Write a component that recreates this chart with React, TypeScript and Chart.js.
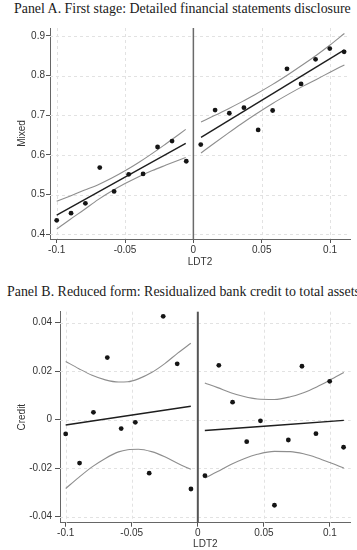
import React, { useEffect, useRef, useMemo } from 'react';
import { Chart, registerables } from 'chart.js';

Chart.register(...registerables);

// ---------------- data ----------------
const titleA = 'Panel A. First stage: Detailed financial statements disclosure';
const titleB = 'Panel B. Reduced form: Residualized bank credit to total assets';

const xTicks = [-0.1, -0.05, 0, 0.05, 0.1];
const xTickLabels = ['-0.1', '-0.05', '0', '0.05', '0.1'];
const xTitle = 'LDT2';

// bin centres (running variable)
const leftBinX = [-0.1, -0.0895, -0.079, -0.0685, -0.058, -0.0473, -0.0368, -0.0262, -0.0156, -0.0052];
const rightBinX = [0.0054, 0.0159, 0.0263, 0.037, 0.0474, 0.058, 0.0685, 0.0788, 0.0894, 0.0998, 0.1103];

// Panel A: Mixed
const aYTicks = [0.4, 0.5, 0.6, 0.7, 0.8, 0.9];
const aYTickLabels = ['0.4', '0.5', '0.6', '0.7', '0.8', '0.9'];
const aYTitle = 'Mixed';
const mixedLeft = [0.435, 0.453, 0.478, 0.568, 0.508, 0.551, 0.552, 0.62, 0.635, 0.584];
const mixedRight = [0.626, 0.713, 0.705, 0.719, 0.663, 0.712, 0.817, 0.779, 0.841, 0.868, 0.86];

const aFitLeftX = [-0.1, -0.0056];
const aFitLeftY = [0.448, 0.629];
const aFitRightX = [0.0056, 0.1105];
const aFitRightY = [0.644, 0.865];

const aCiLeftX = [-0.1, -0.09, -0.08, -0.07, -0.06, -0.05, -0.04, -0.03, -0.02, -0.0056];
const aCiLeftUp = [0.483, 0.4965, 0.5107, 0.5243, 0.541, 0.5599, 0.5808, 0.6038, 0.6283, 0.6643];
const aCiLeftLo = [0.413, 0.4379, 0.4619, 0.4867, 0.5084, 0.5277, 0.5452, 0.5606, 0.5743, 0.5937];

const aCiRightX = [0.0056, 0.015, 0.025, 0.035, 0.045, 0.058, 0.07, 0.08, 0.09, 0.1, 0.1105];
const aCiRightUp = [0.683, 0.6985, 0.7154, 0.7331, 0.7517, 0.7778, 0.8041, 0.8272, 0.8514, 0.8772, 0.906];
const aCiRightLo = [0.605, 0.6289, 0.6538, 0.6781, 0.7013, 0.7298, 0.7539, 0.7728, 0.7904, 0.8086, 0.827];

// Panel B: Credit
const bYTicks = [-0.04, -0.02, 0, 0.02, 0.04];
const bYTickLabels = ['-0.04', '-0.02', '0', '0.02', '0.04'];
const bYTitle = 'Credit';
const creditLeft = [-0.0059, -0.0179, 0.003, 0.0256, -0.0037, -0.0011, -0.0221, 0.0426, 0.023, -0.0286];
const creditRight = [-0.0231, 0.0224, 0.0072, -0.0091, -0.0005, -0.0353, -0.0084, 0.022, -0.0058, 0.0158, -0.0114];

const bFitLeftX = [-0.1, -0.0053];
const bFitLeftY = [-0.0022, 0.0055];
const bFitRightX = [0.0053, 0.1105];
const bFitRightY = [-0.0045, -0.0003];

const bCiLeftX = [-0.1, -0.09, -0.08, -0.07, -0.06, -0.053, -0.045, -0.035, -0.025, -0.015, -0.0053];
const bCiLeftUp = [0.024, 0.021, 0.0183, 0.0164, 0.0155, 0.0156, 0.0168, 0.0194, 0.0231, 0.0275, 0.0315];
const bCiLeftLo = [-0.0284, -0.0238, -0.0195, -0.016, -0.0133, -0.0124, -0.0122, -0.0132, -0.0153, -0.0181, -0.0205];

const bCiRightX = [0.0053, 0.015, 0.025, 0.035, 0.045, 0.058, 0.07, 0.08, 0.09, 0.1, 0.1105];
const bCiRightUp = [0.0151, 0.0132, 0.0111, 0.0095, 0.0085, 0.0083, 0.0094, 0.0111, 0.0135, 0.0163, 0.0194];
const bCiRightLo = [-0.0241, -0.0214, -0.0185, -0.0161, -0.0143, -0.0131, -0.0132, -0.0141, -0.0157, -0.0177, -0.02];

// ---------------- helpers ----------------
const pts = (xs: number[], ys: number[]) => xs.map((x, i) => ({ x, y: ys[i] }));

const SANS = '"Liberation Sans", Arial, Helvetica, sans-serif';
const SERIF = '"Liberation Serif", "Times New Roman", serif';

const stataPlugin = {
  id: 'stataGrid',
  beforeDatasetsDraw(chart: any, _args: any, opts: any) {
    const { ctx, chartArea: a, scales } = chart;
    const x = scales.x;
    const y = scales.y;
    ctx.save();
    ctx.strokeStyle = '#e2e2e2';
    ctx.lineWidth = 1;
    ctx.setLineDash([3, 3]);
    for (const v of opts.xGrid as number[]) {
      if (v === 0) continue;
      const px = Math.round(x.getPixelForValue(v)) + 0.5;
      ctx.beginPath();
      ctx.moveTo(px, a.top);
      ctx.lineTo(px, a.bottom);
      ctx.stroke();
    }
    for (const v of opts.yGrid as number[]) {
      const py = Math.round(y.getPixelForValue(v)) + 0.5;
      ctx.beginPath();
      ctx.moveTo(a.left, py);
      ctx.lineTo(a.right, py);
      ctx.stroke();
    }
    ctx.setLineDash([]);
    ctx.strokeStyle = opts.zeroColor;
    ctx.lineWidth = opts.zeroWidth;
    const zx = x.getPixelForValue(0);
    ctx.beginPath();
    ctx.moveTo(zx, a.top);
    ctx.lineTo(zx, a.bottom);
    ctx.stroke();
    ctx.restore();
  },
};

type Spec = {
  width: number;
  height: number;
  padTop: number;
  padRight: number;
  yWidth: number;
  xHeight: number;
  xMin: number;
  xMax: number;
  yMin: number;
  yMax: number;
  yTicks: number[];
  yTickLabels: string[];
  yTitle: string;
  yTickLen: number;
  yTickPad: number;
  yTitlePad: number;
  zeroColor: string;
  zeroWidth: number;
  left: number[];
  right: number[];
  fitL: { x: number; y: number }[];
  fitR: { x: number; y: number }[];
  ciLU: { x: number; y: number }[];
  ciLL: { x: number; y: number }[];
  ciRU: { x: number; y: number }[];
  ciRL: { x: number; y: number }[];
};

function makeConfig(s: Spec): any {
  const dot = (data: any[]) => ({
    type: 'scatter',
    data,
    pointRadius: 2.4,
    pointHoverRadius: 2.4,
    pointBackgroundColor: '#151515',
    pointBorderWidth: 0,
    showLine: false,
  });
  const line = (data: any[], color: string, width: number) => ({
    type: 'scatter',
    data,
    showLine: true,
    pointRadius: 0,
    borderColor: color,
    borderWidth: width,
    cubicInterpolationMode: 'monotone',
    fill: false,
  });
  const fitColor = '#1e1e1e';
  const ciColor = '#8e8e8e';
  return {
    type: 'scatter',
    data: {
      datasets: [
        dot(pts(leftBinX, s.left)),
        dot(pts(rightBinX, s.right)),
        line(s.fitL, fitColor, 1.4),
        line(s.fitR, fitColor, 1.4),
        line(s.ciLU, ciColor, 1.1),
        line(s.ciLL, ciColor, 1.1),
        line(s.ciRU, ciColor, 1.1),
        line(s.ciRL, ciColor, 1.1),
      ],
    },
    options: {
      animation: false,
      responsive: false,
      devicePixelRatio: 1,
      layout: { padding: { top: s.padTop, right: s.padRight, left: 0, bottom: 0 } },
      plugins: {
        legend: { display: false },
        tooltip: { enabled: false },
        title: { display: false },
        stataGrid: {
          xGrid: xTicks,
          yGrid: s.yTicks,
          zeroColor: s.zeroColor,
          zeroWidth: s.zeroWidth,
        },
      },
      scales: {
        x: {
          type: 'linear',
          min: s.xMin,
          max: s.xMax,
          afterBuildTicks: (sc: any) => {
            sc.ticks = xTicks.map((v) => ({ value: v }));
          },
          afterFit: (sc: any) => {
            sc.height = s.xHeight;
          },
          ticks: {
            autoSkip: false,
            maxRotation: 0,
            padding: 1,
            color: '#333',
            font: { family: SANS, size: 10 },
            callback: (v: number) => xTickLabels[xTicks.indexOf(v)],
          },
          grid: {
            display: true,
            drawOnChartArea: false,
            drawTicks: true,
            tickLength: 4,
            tickColor: '#555',
            tickWidth: 1,
          },
          border: { display: true, color: '#666', width: 1 },
          title: {
            display: true,
            text: xTitle,
            color: '#333',
            font: { family: SANS, size: 10 },
            padding: { top: 0, bottom: 0 },
          },
        },
        y: {
          type: 'linear',
          min: s.yMin,
          max: s.yMax,
          afterBuildTicks: (sc: any) => {
            sc.ticks = s.yTicks.map((v) => ({ value: v }));
          },
          afterFit: (sc: any) => {
            sc.width = s.yWidth;
          },
          ticks: {
            autoSkip: false,
            padding: s.yTickPad,
            color: '#333',
            font: { family: SANS, size: 10 },
            callback: (v: number) => s.yTickLabels[s.yTicks.indexOf(v)],
          },
          grid: {
            display: true,
            drawOnChartArea: false,
            drawTicks: true,
            tickLength: s.yTickLen,
            tickColor: '#555',
            tickWidth: 1,
          },
          border: { display: true, color: '#666', width: 1 },
          title: {
            display: true,
            text: s.yTitle,
            color: '#333',
            font: { family: SANS, size: 10 },
            padding: { top: s.yTitlePad, bottom: 0 },
          },
        },
      },
    },
    plugins: [stataPlugin],
  };
}

const specA: Spec = {
  width: 357,
  height: 268,
  padTop: 28,
  padRight: 7,
  yWidth: 50,
  xHeight: 29,
  xMin: -0.1049,
  xMax: 0.1146,
  yMin: 0.388,
  yMax: 0.92,
  yTicks: aYTicks,
  yTickLabels: aYTickLabels,
  yTitle: aYTitle,
  yTickLen: 4,
  yTickPad: 1,
  yTitlePad: 16,
  zeroColor: '#6a6a6a',
  zeroWidth: 1.5,
  left: mixedLeft,
  right: mixedRight,
  fitL: pts(aFitLeftX, aFitLeftY),
  fitR: pts(aFitRightX, aFitRightY),
  ciLU: pts(aCiLeftX, aCiLeftUp),
  ciLL: pts(aCiLeftX, aCiLeftLo),
  ciRU: pts(aCiRightX, aCiRightUp),
  ciRL: pts(aCiRightX, aCiRightLo),
};

const specB: Spec = {
  width: 357,
  height: 250,
  padTop: 11.7,
  padRight: 6.3,
  yWidth: 60,
  xHeight: 27.3,
  xMin: -0.1043,
  xMax: 0.1157,
  yMin: -0.0425,
  yMax: 0.0445,
  yTicks: bYTicks,
  yTickLabels: bYTickLabels,
  yTitle: bYTitle,
  yTickLen: 5,
  yTickPad: 3,
  yTitlePad: 16,
  zeroColor: '#555',
  zeroWidth: 2,
  left: creditLeft,
  right: creditRight,
  fitL: pts(bFitLeftX, bFitLeftY),
  fitR: pts(bFitRightX, bFitRightY),
  ciLU: pts(bCiLeftX, bCiLeftUp),
  ciLL: pts(bCiLeftX, bCiLeftLo),
  ciRU: pts(bCiRightX, bCiRightUp),
  ciRL: pts(bCiRightX, bCiRightLo),
};

function Panel({ spec, top }: { spec: Spec; top: number }) {
  const ref = useRef<HTMLCanvasElement | null>(null);
  useEffect(() => {
    if (!ref.current) return;
    const chart = new Chart(ref.current, makeConfig(spec));
    return () => chart.destroy();
  }, [spec]);
  return (
    <canvas
      ref={ref}
      width={spec.width}
      height={spec.height}
      style={{ position: 'absolute', left: 0, top, width: spec.width, height: spec.height, display: 'block' }}
    />
  );
}

export default function App() {
  const titleSize = useMemo(() => {
    const c = document.createElement('canvas').getContext('2d');
    if (!c) return 13.5;
    c.font = `100px ${SERIF}`;
    const w = c.measureText(titleA).width;
    return (100 * 338) / w;
  }, []);
  const titleStyle = (left: number, centerY: number): React.CSSProperties => ({
    position: 'absolute',
    left,
    top: centerY - titleSize * 0.55,
    fontFamily: SERIF,
    fontSize: titleSize,
    lineHeight: 1,
    whiteSpace: 'nowrap',
    color: '#1a1a1a',
  });
  return (
    <div
      style={{
        position: 'fixed',
        left: 0,
        top: 0,
        width: 357,
        height: 550,
        overflow: 'hidden',
        background: '#fff',
      }}
    >
      <div style={titleStyle(14, 10)}>{titleA}</div>
      <Panel spec={specA} top={0} />
      <div style={titleStyle(7, 292.5)}>{titleB}</div>
      <Panel spec={specB} top={300} />
    </div>
  );
}
